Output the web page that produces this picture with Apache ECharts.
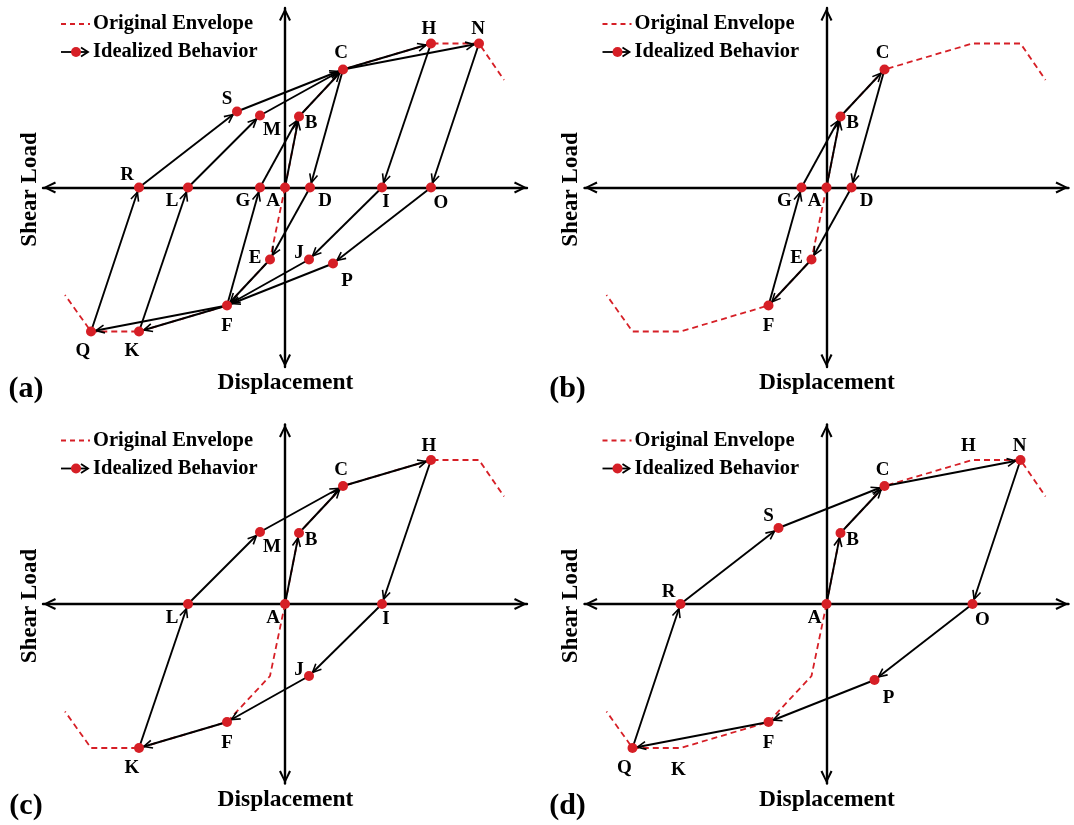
<!DOCTYPE html>
<html>
<head>
<meta charset="utf-8">
<title>Hysteresis rules</title>
<script src="https://cdn.jsdelivr.net/npm/echarts@6.0.0/dist/echarts.min.js"></script>
<style>
  html, body { margin: 0; padding: 0; background: #ffffff; }
  #chart { width: 1074px; height: 825px; }
</style>
</head>
<body>
<div id="chart"></div>
<script>
// Key points of the idealized hysteresis model: displacement / shear load (arbitrary units)
const pointNames   = ['A', 'B', 'C', 'D', 'E', 'F', 'G', 'H', 'I', 'J', 'K', 'L', 'M', 'N', 'O', 'P', 'Q', 'R', 'S'];
const displacement = [0, 1.4, 5.8, 2.5, -1.5, -5.8, -2.5, 14.6, 9.7, 2.4, -14.6, -9.7, -2.5, 19.4, 14.6, 4.8, -19.4, -14.6, -4.8];
const shearLoad    = [0, 7.1, 11.8, 0, -7.2, -11.8, 0, 14.4, 0, -7.2, -14.4, 0, 7.2, 14.4, 0, -7.6, -14.4, 0, 7.6];

// Original backbone envelope, positive and negative branches
const envPosX = [0, 1.4, 5.8, 14.6, 19.4, 21.9];
const envPosY = [0, 7.1, 11.8, 14.4, 14.4, 10.75];
const envNegX = [0, -1.5, -5.8, -14.6, -19.4, -22.0];
const envNegY = [0, -7.2, -11.8, -14.4, -14.4, -10.75];

// Loading paths of each panel, written as chains of point names
const panelTags   = ['(a)', '(b)', '(c)', '(d)'];
const panelPaths  = [
  ['ABCDEFGB', 'CHIJFKLMC', 'CNOPFQRSC'],
  ['ABCDEFGB'],
  ['ABCHIJFKLMC'],
  ['ABCNOPFQRSC']
];
const panelDots   = ['ABCDEFGHIJKLMNOPQRS', 'ABCDEFG', 'ABCFHIJKLM', 'ABCFNOPQRS'];
const panelPlainLabels = ['', '', '', 'HK'];   // named but not marked with a dot
const legendTexts = ['Original Envelope', 'Idealized Behavior'];
const xTitle = 'Displacement';
const yTitle = 'Shear Load';

// ---- styling ----
const RED = '#d61f26';
const INK = '#000000';
const SERIF = '"Liberation Serif", "Times New Roman", serif';
const origins = [[285, 187.5], [826.5, 187.5], [285, 604], [826.5, 604]];
const X_EXT = 24.2, Y_EXT = 17.95, PX = 10;
const PATH_W = 1.9;
const labelOffset = {
  A: [-12, 14], B: [12, 7], C: [-2, -16], D: [15, 14], E: [-15, -1], F: [0, 21], G: [-17, 14],
  H: [-2, -14], I: [4, 15], J: [-10, -6], K: [-7, 20], L: [-16, 14], M: [12, 15], N: [-1, -14],
  O: [10, 16], P: [14, 18], Q: [-8, 20], R: [-12, -12], S: [-10, -12]
};
const plainLabelOffset = { H: [-4, -14], K: [-2, 22] };

const pt = {};
pointNames.forEach((n, i) => { pt[n] = [displacement[i], shearLoad[i]]; });

function segmentsOf(chains) {
  const segs = [];
  chains.forEach(chain => {
    for (let i = 0; i < chain.length - 1; i++) {
      const a = pt[chain[i]], b = pt[chain[i + 1]];
      segs.push([a[0], a[1], b[0], b[1]]);
    }
  });
  return segs;
}

function renderArrow(params, api) {
  const s = api.coord([api.value(0), api.value(1)]);
  const e = api.coord([api.value(2), api.value(3)]);
  const dx = e[0] - s[0], dy = e[1] - s[1];
  const len = Math.hypot(dx, dy) || 1;
  const ux = dx / len, uy = dy / len;
  const tip = [e[0] - ux * 5, e[1] - uy * 5];
  const back = 8.5, half = 4;
  const bx = tip[0] - ux * back, by = tip[1] - uy * back;
  return {
    type: 'group',
    children: [
      { type: 'line', shape: { x1: s[0], y1: s[1], x2: e[0], y2: e[1] },
        style: { stroke: INK, lineWidth: PATH_W } },
      { type: 'polyline',
        shape: { points: [[bx - uy * half, by + ux * half], tip, [bx + uy * half, by - ux * half]] },
        style: { stroke: INK, lineWidth: 1.6, fill: null } }
    ]
  };
}

// names placed at a point of the envelope without a marker
function renderPlainLabel(params, api) {
  const name = panelPlainLabels[3][params.dataIndex];
  const p = api.coord([api.value(0), api.value(1)]);
  const off = plainLabelOffset[name];
  return {
    type: 'text', x: p[0] + off[0], y: p[1] + off[1],
    style: { text: name, font: 'bold 19px ' + SERIF, fill: INK, align: 'center', verticalAlign: 'middle' }
  };
}

const axisArrow = 'path://M0,10 L5,0 L10,10 L8.4,10.8 L5,3.4 L1.6,10.8 Z';
const grids = [], xAxes = [], yAxes = [], series = [], graphics = [];

origins.forEach((o, i) => {
  const [ox, oy] = o;
  grids.push({ left: ox - X_EXT * PX, top: oy - Y_EXT * PX, width: 2 * X_EXT * PX, height: 2 * Y_EXT * PX });
  const axisCommon = {
    type: 'value', gridIndex: i,
    axisLine: { onZero: true, symbol: [axisArrow, axisArrow], symbolSize: [12, 13], symbolOffset: [6.5, -6.5],
                lineStyle: { color: INK, width: 2.4 } },
    axisTick: { show: false }, axisLabel: { show: false }, splitLine: { show: false }
  };
  xAxes.push(Object.assign({ min: -X_EXT, max: X_EXT }, axisCommon));
  yAxes.push(Object.assign({ min: -Y_EXT, max: Y_EXT }, axisCommon));

  [[envPosX, envPosY], [envNegX, envNegY]].forEach(([xs, ys]) => {
    series.push({
      type: 'line', xAxisIndex: i, yAxisIndex: i, z: 1, silent: true, animation: false,
      showSymbol: false, symbol: 'none',
      data: xs.map((x, k) => [x, ys[k]]),
      lineStyle: { color: RED, width: 1.8, type: [6, 4] }
    });
  });

  series.push({
    type: 'custom', xAxisIndex: i, yAxisIndex: i, z: 2, silent: true, animation: false,
    renderItem: renderArrow,
    encode: { x: [0, 2], y: [1, 3] },
    data: segmentsOf(panelPaths[i])
  });

  const labelBase = { show: true, position: 'inside', color: INK, textBorderWidth: 0,
                      fontFamily: SERIF, fontWeight: 'bold', fontSize: 19,
                      formatter: p => p.name };
  series.push({
    type: 'scatter', xAxisIndex: i, yAxisIndex: i, z: 3, silent: true, animation: false,
    symbolSize: 10, itemStyle: { color: RED, opacity: 1 },
    label: labelBase,
    data: panelDots[i].split('').map(n => ({ name: n, value: pt[n], label: { offset: labelOffset[n] } }))
  });
  if (panelPlainLabels[i]) {
    series.push({
      type: 'custom', xAxisIndex: i, yAxisIndex: i, z: 3, silent: true, animation: false,
      renderItem: renderPlainLabel,
      encode: { x: 0, y: 1 },
      data: panelPlainLabels[i].split('').map(n => pt[n])
    });
  }

  // panel tag, axis titles
  graphics.push({ type: 'text', x: ox - 259, y: oy + 202, silent: true,
    style: { text: panelTags[i], font: 'bold 30px ' + SERIF, fill: INK, align: 'center', verticalAlign: 'middle' } });
  graphics.push({ type: 'text', x: ox + 0.5, y: oy + 195.5, silent: true,
    style: { text: xTitle, font: 'bold 23.5px ' + SERIF, fill: INK, align: 'center', verticalAlign: 'middle' } });
  graphics.push({ type: 'text', x: ox - 255, y: oy + 2, rotation: Math.PI / 2, silent: true,
    style: { text: yTitle, font: 'bold 23px ' + SERIF, fill: INK, align: 'center', verticalAlign: 'middle' } });

  // legend
  const ly1 = oy - 163.5, ly2 = oy - 135.5;
  graphics.push({ type: 'line', silent: true, shape: { x1: ox - 224, y1: ly1, x2: ox - 195, y2: ly1 },
    style: { stroke: RED, lineWidth: 2, lineDash: [5, 4] } });
  graphics.push({ type: 'text', x: ox - 192, y: ly1, silent: true,
    style: { text: legendTexts[0], font: 'bold 20.5px ' + SERIF, fill: INK, align: 'left', verticalAlign: 'middle' } });
  graphics.push({ type: 'line', silent: true, shape: { x1: ox - 224, y1: ly2, x2: ox - 197, y2: ly2 },
    style: { stroke: INK, lineWidth: 1.8 } });
  graphics.push({ type: 'polyline', silent: true,
    shape: { points: [[ox - 204, ly2 - 4.5], [ox - 197, ly2], [ox - 204, ly2 + 4.5]] },
    style: { stroke: INK, lineWidth: 1.8, fill: null } });
  graphics.push({ type: 'circle', silent: true, shape: { cx: ox - 209, cy: ly2, r: 5 }, style: { fill: RED } });
  graphics.push({ type: 'text', x: ox - 192, y: ly2, silent: true,
    style: { text: legendTexts[1], font: 'bold 20.5px ' + SERIF, fill: INK, align: 'left', verticalAlign: 'middle' } });
});

const chart = echarts.init(document.getElementById('chart'), null, { renderer: 'canvas' });
chart.setOption({
  animation: false,
  backgroundColor: '#ffffff',
  grid: grids,
  xAxis: xAxes,
  yAxis: yAxes,
  series: series,
  graphic: { elements: graphics }
});
</script>
</body>
</html>
